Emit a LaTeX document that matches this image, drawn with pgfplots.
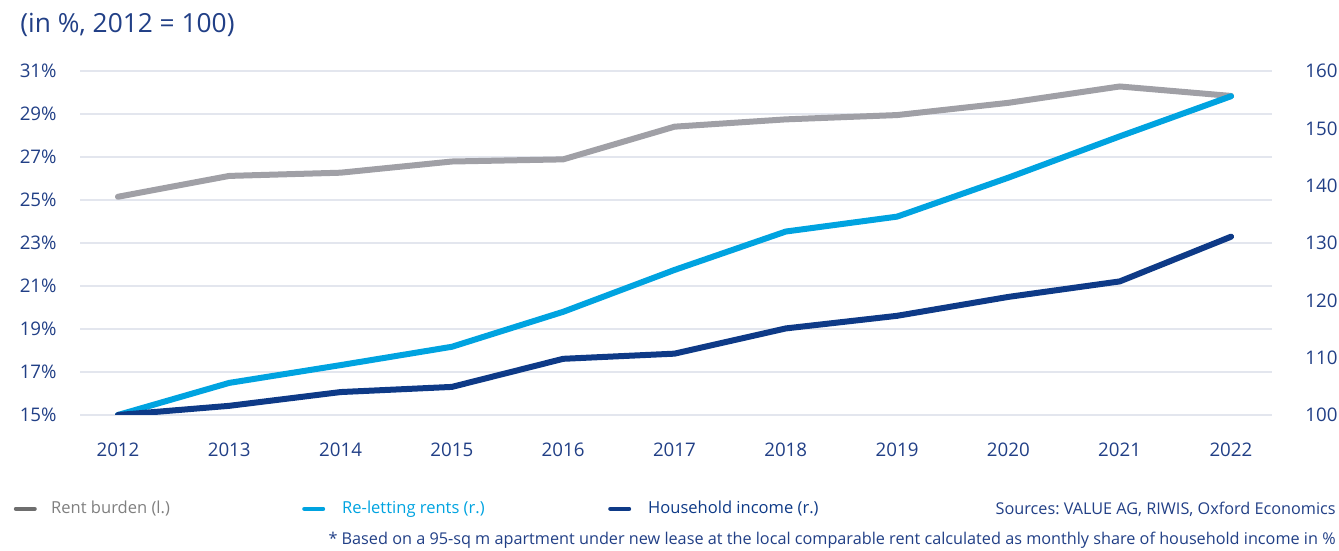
\documentclass[border=0pt]{standalone}
\usepackage{pgfplots}
\pgfplotsset{compat=1.18}
\usepackage{fontspec}
\setmainfont{Open Sans}
\frenchspacing
\definecolor{grayline}{HTML}{A0A0A6}
\definecolor{cyanline}{HTML}{00A3E0}
\definecolor{navyline}{HTML}{0E3A87}
\definecolor{txtnavy}{HTML}{213F86}
\definecolor{gridcol}{HTML}{E3E6EE}
\definecolor{leggray}{HTML}{7F7F7F}
\definecolor{leggraydash}{HTML}{6E6E6E}
\pgfplotsset{
  common/.style={
    at={(40bp,68bp)}, anchor=south west,
    scale only axis, width=596bp, height=172bp,
    xmin=2011.659, xmax=2022.368,
    axis line style={draw=none},
    major tick length=0pt,
    tick label style={font=\fontsize{9.4}{11}\selectfont, text=txtnavy, inner sep=0pt},
    /pgf/number format/assume math mode=true,
    /pgf/number format/1000 sep={},
  }
}
\begin{document}
\begin{tikzpicture}
\path[use as bounding box] (0,0) rectangle (669.5bp,275.5bp);
\begin{axis}[common,
  ymin=15, ymax=31, ytick={15,17,...,31},
  yticklabel={\pgfmathprintnumber{\tick}\%},
  yticklabel style={anchor=east, xshift=-11.5bp},
  xtick={2012,...,2022},
  xticklabel style={anchor=center, yshift=-17.5bp},
  ymajorgrids, grid style={draw=gridcol, line width=0.6bp},
]
\addplot[grayline, line width=3bp, line cap=round, line join=round] coordinates {
(2012,25.15) (2013,26.12) (2014,26.27) (2015,26.79) (2016,26.89) (2017,28.41)
(2018,28.75) (2019,28.95) (2020,29.52) (2021,30.28) (2022,29.84)};
\end{axis}
\begin{axis}[common,
  ymin=100, ymax=160, ytick={100,110,...,160},
  yticklabel pos=right,
  yticklabel style={anchor=west, xshift=16.5bp},
  xtick=\empty,
  legend columns=3,
  legend style={at={(-0.0562,-0.273)}, anchor=west, draw=none, fill=none,
    inner sep=0pt, font=\fontsize{8.3}{10}\selectfont,
    nodes={inner sep=0pt},
    /tikz/every odd column/.append style={column sep=7bp}},
  legend cell align=left,
  legend image code/.code={
    \draw[#1, line width=2.2bp, line cap=round] (1.1bp,0bp) -- (10.4bp,0bp);
    \path (0bp,0bp) (11.5bp,0bp);},
]
\addlegendimage{leggraydash}
\addlegendentry{\makebox[124bp][l]{\textcolor{leggray}{Rent burden (l.)}}}
\addplot[cyanline, line width=3bp, line cap=round, line join=round] coordinates {
(2012,100) (2013,105.6) (2014,108.7) (2015,111.9) (2016,118.0) (2017,125.3)
(2018,132.0) (2019,134.6) (2020,141.4) (2021,148.6) (2022,155.6)};
\addlegendentry{\makebox[131.5bp][l]{\textcolor{cyanline}{Re-letting rents (r.)}}}
\addplot[navyline, line width=3bp, line cap=round, line join=round] coordinates {
(2012,100) (2013,101.6) (2014,104.0) (2015,104.9) (2016,109.8) (2017,110.7)
(2018,115.1) (2019,117.3) (2020,120.6) (2021,123.3) (2022,131.1)};
\addlegendentry{\textcolor{navyline}{Household income (r.)}}
\end{axis}
\node[anchor=west, inner sep=0pt, text=txtnavy, font=\fontsize{13.2}{15}\selectfont] at (10bp,263bp) {(in \%, 2012 = 100)};
\node[anchor=east, inner sep=0pt, text=txtnavy, font=\fontsize{8.15}{10}\selectfont] at (668bp,21bp) {Sources: VALUE AG, RIWIS, Oxford Economics};
\node[anchor=east, inner sep=0pt, text=txtnavy, font=\fontsize{8.15}{10}\selectfont] at (668bp,5.5bp) {* Based on a 95-sq m apartment under new lease at the local comparable rent calculated as monthly share of household income in \%};
\end{tikzpicture}
\end{document}
